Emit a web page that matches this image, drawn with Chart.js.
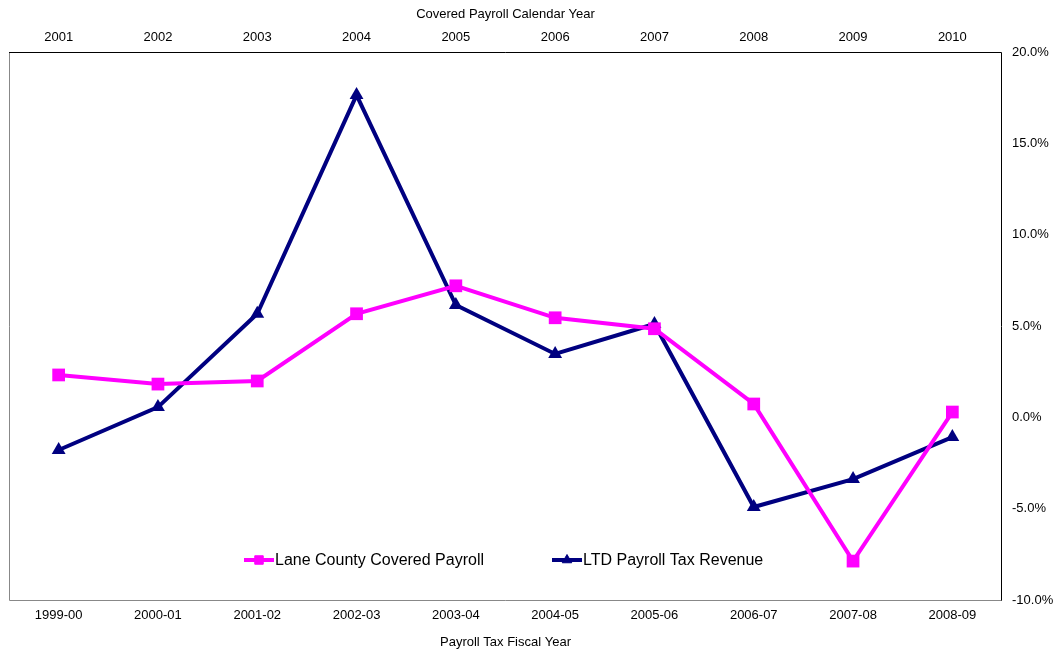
<!DOCTYPE html>
<html>
<head>
<meta charset="utf-8">
<script src="https://cdn.jsdelivr.net/npm/chart.js@4"></script>
<style>
  html, body { margin: 0; padding: 0; background: #fff; }
  #wrap { width: 1060px; height: 652px; }
</style>
</head>
<body>
<div id="wrap"><canvas id="payrollChart" width="1060" height="652"></canvas></div>
<script>
// fiscal years along the bottom, calendar years along the top
var fiscalYears = ['1999-00', '2000-01', '2001-02', '2002-03', '2003-04', '2004-05', '2005-06', '2006-07', '2007-08', '2008-09'];
var calendarYears = ['2001', '2002', '2003', '2004', '2005', '2006', '2007', '2008', '2009', '2010'];

// percent change year over year
var coveredPayroll = [2.32, 1.82, 1.99, 5.67, 7.2, 5.45, 4.85, 0.73, -7.87, 0.29];
var payrollTaxRevenue = [-1.79, 0.56, 5.67, 17.64, 6.15, 3.47, 5.11, -4.91, -3.38, -1.08];

var FONT = 'Arial, "Liberation Sans", sans-serif';
var PINK = '#ff00ff';
var NAVY = '#000080';

// frame around the plot area
var framePlugin = {
    id: 'frame',
    beforeDatasetsDraw: function(chart) {
        var a = chart.chartArea;
        var ctx = chart.ctx;
        ctx.save();
        ctx.lineWidth = 1;
        ctx.strokeStyle = '#888';
        ctx.beginPath();
        ctx.moveTo(a.left + 0.5, a.top);
        ctx.lineTo(a.left + 0.5, a.bottom + 0.5);
        ctx.lineTo(a.right, a.bottom + 0.5);
        ctx.stroke();
        ctx.strokeStyle = '#000';
        ctx.beginPath();
        ctx.moveTo(a.left, a.top + 0.5);
        ctx.lineTo(a.right - 0.5, a.top + 0.5);
        ctx.lineTo(a.right - 0.5, a.bottom + 0.5);
        ctx.stroke();
        ctx.restore();
    }
};

// legend sits inside the plot, near the bottom
var insideLegend = {
    id: 'insideLegend',
    afterDatasetsDraw: function(chart) {
        var ctx = chart.ctx;
        var y = chart.chartArea.bottom - 40;
        var items = [{ x: 244, idx: 0 }, { x: 552, idx: 1 }];
        ctx.save();
        ctx.font = '16px ' + FONT;
        ctx.textBaseline = 'middle';
        items.forEach(function(it) {
            var ds = chart.data.datasets[it.idx];
            ctx.strokeStyle = ds.borderColor;
            ctx.lineWidth = 4;
            ctx.beginPath();
            ctx.moveTo(it.x, y);
            ctx.lineTo(it.x + 30, y);
            ctx.stroke();
            ctx.fillStyle = ds.backgroundColor;
            ctx.strokeStyle = ds.borderColor;
            ctx.lineWidth = 1;
            Chart.helpers.drawPoint(ctx, {
                pointStyle: ds.pointStyle,
                rotation: 0,
                borderWidth: 1,
                radius: ds.pointStyle === 'rect' ? 6 : 5.5
            }, it.x + 15, y);
            ctx.fillStyle = '#000';
            ctx.fillText(ds.label, it.x + 31, y + 1);
        });
        ctx.restore();
    }
};

new Chart(document.getElementById('payrollChart'), {
    type: 'line',
    data: {
        labels: fiscalYears,
        datasets: [{
            label: 'Lane County Covered Payroll',
            data: coveredPayroll,
            borderColor: PINK,
            backgroundColor: PINK,
            borderWidth: 4,
            pointStyle: 'rect',
            pointRadius: 9,
            pointBorderWidth: 0,
            tension: 0
        }, {
            label: 'LTD Payroll Tax Revenue',
            data: payrollTaxRevenue,
            borderColor: NAVY,
            backgroundColor: NAVY,
            borderWidth: 4,
            pointStyle: 'triangle',
            pointRadius: 8,
            pointBorderWidth: 0,
            tension: 0
        }]
    },
    options: {
        responsive: false,
        animation: false,
        layout: { padding: { left: 8, right: 0, top: 0, bottom: 0 } },
        plugins: {
            legend: { display: false },
            tooltip: { enabled: false }
        },
        scales: {
            x: {
                type: 'category',
                position: 'bottom',
                offset: true,
                grid: { display: false, drawTicks: false },
                border: { display: false },
                ticks: { color: '#000', font: { family: FONT, size: 13 }, padding: 8, maxRotation: 0, autoSkip: false },
                title: {
                    display: true,
                    text: 'Payroll Tax Fiscal Year',
                    color: '#000',
                    font: { family: FONT, size: 13 },
                    padding: { top: 0, bottom: 2 }
                },
                afterFit: function(scale) { scale.height = 52; }
            },
            x2: {
                type: 'category',
                position: 'top',
                labels: calendarYears,
                offset: true,
                grid: { display: false, drawTicks: false },
                border: { display: false },
                ticks: { color: '#000', font: { family: FONT, size: 13 }, padding: 7, maxRotation: 0, autoSkip: false },
                title: {
                    display: true,
                    text: 'Covered Payroll Calendar Year',
                    color: '#000',
                    font: { family: FONT, size: 13 },
                    padding: { top: 7, bottom: 0 }
                },
                afterFit: function(scale) { scale.height = 52; }
            },
            y: {
                position: 'right',
                min: -10,
                max: 20,
                grid: { display: false, drawTicks: false },
                border: { display: false },
                ticks: {
                    stepSize: 5,
                    color: '#000',
                    font: { family: FONT, size: 13 },
                    padding: 10,
                    callback: function(v) { return v.toFixed(1) + '%'; }
                },
                afterFit: function(scale) { scale.width = 58; }
            }
        }
    },
    plugins: [framePlugin, insideLegend]
});
</script>
</body>
</html>
